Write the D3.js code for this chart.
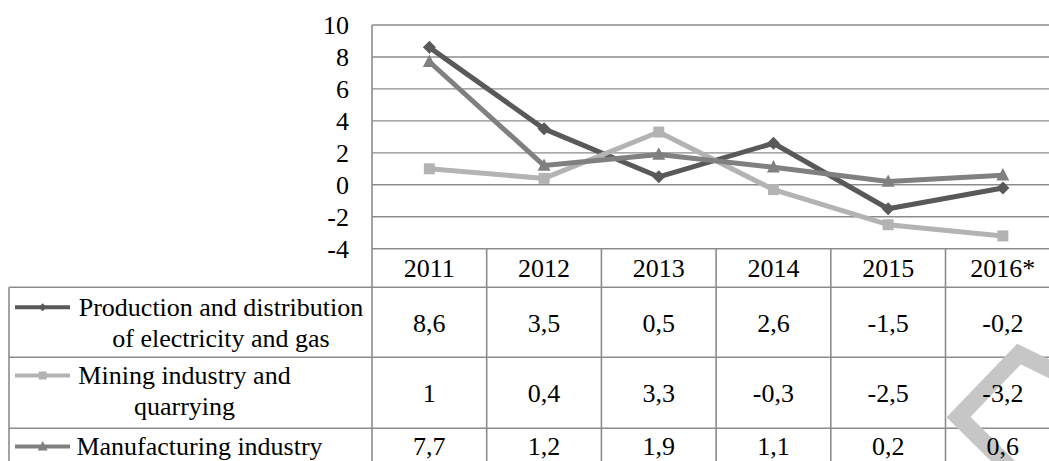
<!DOCTYPE html>
<html>
<head>
<meta charset="utf-8">
<script src="https://cdn.jsdelivr.net/npm/d3@7/dist/d3.min.js"></script>
</head>
<body style="margin:0;padding:0;background:#fff">
<svg id="chart" width="1049" height="461" style="display:block"></svg>
<script>
// ---- data ----
const years = ["2011", "2012", "2013", "2014", "2015", "2016*"];
const yTicks = [-4, -2, 0, 2, 4, 6, 8, 10];
const seriesNames = [
  ["Production and distribution", "of electricity and gas"],
  ["Mining industry and", "quarrying"],
  ["Manufacturing industry"]
];
const electricity = [8.6, 3.5, 0.5, 2.6, -1.5, -0.2];
const mining = [1, 0.4, 3.3, -0.3, -2.5, -3.2];
const manufacturing = [7.7, 1.2, 1.9, 1.1, 0.2, 0.6];
const valueLabels = [
  ["8,6", "3,5", "0,5", "2,6", "-1,5", "-0,2"],
  ["1", "0,4", "3,3", "-0,3", "-2,5", "-3,2"],
  ["7,7", "1,2", "1,9", "1,1", "0,2", "0,6"]
];

// ---- styles / layout ----
const series = [
  { values: electricity, color: "#595959", marker: "diamond", names: seriesNames[0] },
  { values: mining, color: "#b3b3b3", marker: "square", names: seriesNames[1] },
  { values: manufacturing, color: "#808080", marker: "triangle", names: seriesNames[2] }
];
const FONT = '"Liberation Serif", serif';
const gridColor = "#8c8c8c";
const plotLeft = 372, colW = 114.7, plotTop = 25, plotBottom = 248.7;
const tableLeft = 9;
const rowTops = [287.3, 357.3, 428.3, 465];
const legendCenters = [221, 184.5, 199.5];

const svg = d3.select("#chart")
  .attr("font-family", "Liberation Serif").style("font-family", FONT, "important");
const x = d3.scaleBand().domain(years).range([plotLeft, plotLeft + colW * years.length]);
const y = d3.scaleLinear().domain([-4, 10]).range([plotBottom, plotTop]);

function styleText(sel) {
  return sel.attr("font-family", "Liberation Serif").attr("font-size", 26)
    .style("font-family", FONT, "important").style("font-size", "26px", "important")
    .style("fill", "#000");
}

// gridlines
svg.append("g").selectAll("line").data(yTicks).join("line")
  .attr("x1", plotLeft).attr("x2", x.range()[1])
  .attr("y1", d => y(d)).attr("y2", d => y(d))
  .attr("stroke", gridColor).attr("stroke-width", 1.4);

// y axis labels
const yAxis = d3.axisLeft(y).tickValues(yTicks).tickSize(0).tickPadding(23).tickFormat(d => String(d));
const gy = svg.append("g").attr("transform", `translate(${plotLeft},0)`).call(yAxis)
  .attr("font-family", "Liberation Serif").attr("font-size", 26);
gy.select(".domain").remove();
styleText(gy.selectAll("text"));

// table lines
const tbl = svg.append("g").attr("stroke", gridColor).attr("stroke-width", 1.6);
tbl.append("line").attr("x1", plotLeft).attr("x2", plotLeft).attr("y1", plotTop).attr("y2", 461);
years.forEach(yr => {
  const xr = x(yr) + x.bandwidth();
  tbl.append("line").attr("x1", xr).attr("x2", xr).attr("y1", plotBottom).attr("y2", 461);
});
tbl.append("line").attr("x1", tableLeft).attr("x2", tableLeft).attr("y1", rowTops[0]).attr("y2", 461);
rowTops.slice(0, 3).forEach(t => {
  tbl.append("line").attr("x1", tableLeft).attr("x2", x.range()[1]).attr("y1", t).attr("y2", t);
});

// watermark (decorative)
svg.append("path")
  .attr("d", "M1068,378 L1019,354 L958.5,417 L1010,468")
  .attr("fill", "none").attr("stroke", "#c6c6c6").attr("stroke-width", 17)
  .attr("stroke-linejoin", "miter");

// header years
styleText(svg.append("g").selectAll("text").data(years).join("text")
  .attr("x", d => x(d) + x.bandwidth() / 2).attr("y", 276.7)
  .attr("text-anchor", "middle").text(d => d));

// value cells
const valueBase = [331.7, 401.7, 455];
valueLabels.forEach((row, i) => {
  styleText(svg.append("g").selectAll("text").data(row).join("text")
    .attr("x", (d, j) => x(years[j]) + x.bandwidth() / 2).attr("y", valueBase[i])
    .attr("text-anchor", "middle").text(d => d));
});

// markers
function markerPath(type, s) {
  if (type === "diamond") return `M0,${-s}L${s},0L0,${s}L${-s},0Z`;
  if (type === "square") return `M${-s},${-s}H${s}V${s}H${-s}Z`;
  return `M0,${-s * 1.1}L${s},${s * 0.8}L${-s},${s * 0.8}Z`;
}

// lines
const line = d3.line().x((d, i) => x(years[i]) + x.bandwidth() / 2).y(d => y(d));
series.forEach(s => {
  const g = svg.append("g");
  g.append("path").datum(s.values).attr("d", line)
    .attr("fill", "none").attr("stroke", s.color).attr("stroke-width", 5)
    .attr("stroke-linejoin", "round");
  const ms = s.marker === "diamond" ? 6.5 : s.marker === "square" ? 5.5 : 6.5;
  g.selectAll("path.m").data(s.values).join("path").attr("class", "m")
    .attr("transform", (d, i) => `translate(${x(years[i]) + x.bandwidth() / 2},${y(d)})`)
    .attr("d", markerPath(s.marker, ms)).attr("fill", s.color);
});

// legend cells
const legendBase = [315.7, 384, 455];
series.forEach((s, i) => {
  const base = legendBase[i];
  const keyY = base - 8.5;
  svg.append("line").attr("x1", 15).attr("x2", 70).attr("y1", keyY).attr("y2", keyY)
    .attr("stroke", s.color).attr("stroke-width", 4);
  svg.append("path").attr("transform", `translate(42.7,${keyY})`)
    .attr("d", markerPath(s.marker, s.marker === "triangle" ? 5 : 4)).attr("fill", s.color);
  s.names.forEach((t, k) => styleText(svg.append("text")
    .attr("x", legendCenters[i]).attr("y", base + k * 31)
    .attr("text-anchor", "middle").text(t)));
});
</script>
</body>
</html>
